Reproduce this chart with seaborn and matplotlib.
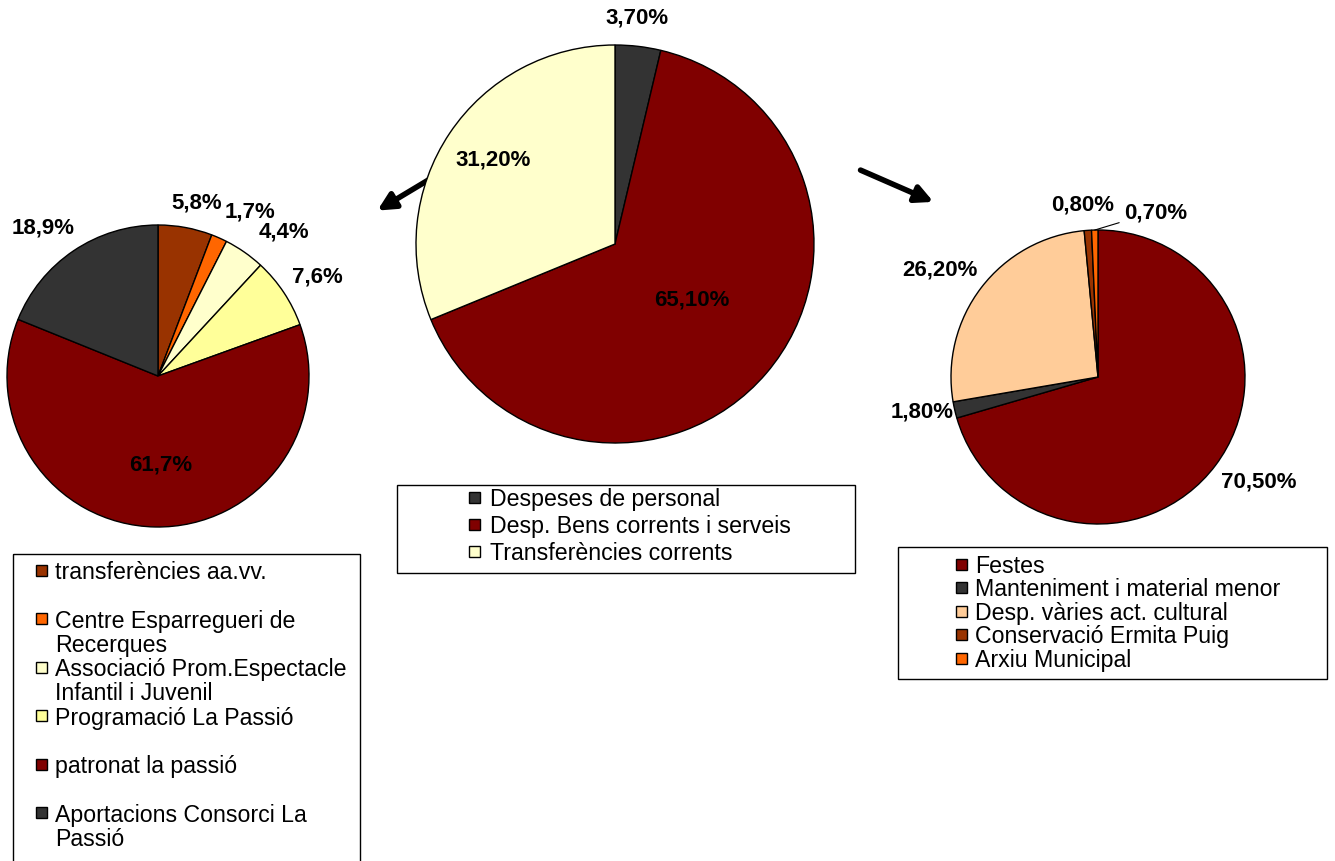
import matplotlib
matplotlib.use('Agg')
import numpy as np
import matplotlib.pyplot as plt
import seaborn as sns
from matplotlib.patches import Rectangle

# dades dels tres gràfics
left_labels = ["transferències aa.vv.", "Centre Esparregueri de\nRecerques",
               "Associació Prom.Espectacle\nInfantil i Juvenil", "Programació La Passió",
               "patronat la passió", "Aportacions Consorci La\nPassió"]
left_values = [5.8, 1.7, 4.4, 7.6, 61.7, 18.9]
left_colors = ['#993300', '#FF6600', '#FFFFCC', '#FFFF99', '#800000', '#333333']

mid_labels = ["Despeses de personal", "Desp. Bens corrents i serveis", "Transferències corrents"]
mid_values = [3.7, 65.1, 31.2]
mid_colors = ['#333333', '#800000', '#FFFFCC']

right_labels = ["Festes", "Manteniment i material menor", "Desp. vàries act. cultural",
                "Conservació Ermita Puig", "Arxiu Municipal"]
right_values = [70.5, 1.8, 26.2, 0.8, 0.7]
right_colors = ['#800000', '#333333', '#FFCC99', '#993300', '#FF6600']

W, H = 1335, 862

sns.set_style('white')
plt.rcParams['font.family'] = ['Liberation Sans', 'DejaVu Sans']
plt.rcParams['text.color'] = 'black'

fig = plt.figure(figsize=(W / 100, H / 100), dpi=100)
bg = fig.add_axes([0, 0, 1, 1])
bg.set_xlim(0, W)
bg.set_ylim(H, 0)
bg.axis('off')


def draw_pie(cx, cy, r, values, colors, decimals, dists, nudges, leader=None):
    ax = fig.add_axes([(cx - r) / W, 1 - (cy + r) / H, 2 * r / W, 2 * r / H])
    wedges, _ = ax.pie(values, colors=colors, startangle=90, counterclock=False,
                       radius=1, wedgeprops=dict(edgecolor='black', linewidth=1))
    ax.set_xlim(-1, 1)
    ax.set_ylim(-1, 1)
    ax.axis('off')
    for i, (w, v) in enumerate(zip(wedges, values)):
        mid = (w.theta1 + w.theta2) / 2
        ang = np.deg2rad(mid + nudges[i])
        txt = f"{v:.{decimals}f}%".replace('.', ',')
        pos = (dists[i] * np.cos(ang), dists[i] * np.sin(ang))
        if i == leader:
            tip = (np.cos(np.deg2rad(mid)), np.sin(np.deg2rad(mid)))
            ax.annotate(txt, xy=tip, xytext=pos, ha='center', va='center',
                        fontsize=16, fontweight='bold', color='black',
                        annotation_clip=False,
                        arrowprops=dict(arrowstyle='-', color='black', lw=0.8,
                                        shrinkA=1, shrinkB=0))
        else:
            ax.text(pos[0], pos[1], txt, ha='center', va='center',
                    fontsize=16, fontweight='bold', color='black')
    return ax


def draw_legend(box, mx, tx, y0, pitch, labels, colors, line_h=24):
    x0, yt, x1, yb = box
    bg.add_patch(Rectangle((x0, yt), x1 - x0, yb - yt, fill=False,
                           edgecolor='black', lw=1))
    for i, (lab, c) in enumerate(zip(labels, colors)):
        y = y0 + i * pitch
        bg.add_patch(Rectangle((mx - 5.5, y - 5.5), 11, 11, facecolor=c,
                               edgecolor='black', lw=1))
        for k, line in enumerate(lab.split('\n')):
            bg.text(tx, y + k * line_h + 8, line, fontsize=16.7, ha='left',
                    va='baseline', color='black')


draw_pie(158, 377, 151, left_values, left_colors, 1,
         [1.18, 1.25, 1.27, 1.245, 0.58, 1.245], [-2.2, -5.2, -6.1, -1.3, 2.6, 3.5])
draw_pie(615, 245, 199, mid_values, mid_colors, 2,
         [1.146, 0.475, 0.747], [1, 5, -1])
draw_pie(1098, 378, 147, right_values, right_colors, 2,
         [1.30, 1.22, 1.30, 1.18, 1.19], [3.9, -2, 3, 1, -20.4], leader=4)

draw_legend((13, 555, 360, 880), 41, 55, 571, 48.6, left_labels, left_colors)
draw_legend((397, 486, 855, 574), 474, 490, 498, 27, mid_labels, mid_colors)
draw_legend((898, 548, 1327, 680), 961, 975, 565, 23.5, right_labels, right_colors)

# fletxes
bg.annotate('', xy=(375, 213), xytext=(440, 174),
            arrowprops=dict(arrowstyle='-|>', color='black', lw=4, mutation_scale=26))
bg.annotate('', xy=(936, 204), xytext=(858, 170),
            arrowprops=dict(arrowstyle='-|>', color='black', lw=4, mutation_scale=26))

fig.savefig('out.png', dpi=100)
